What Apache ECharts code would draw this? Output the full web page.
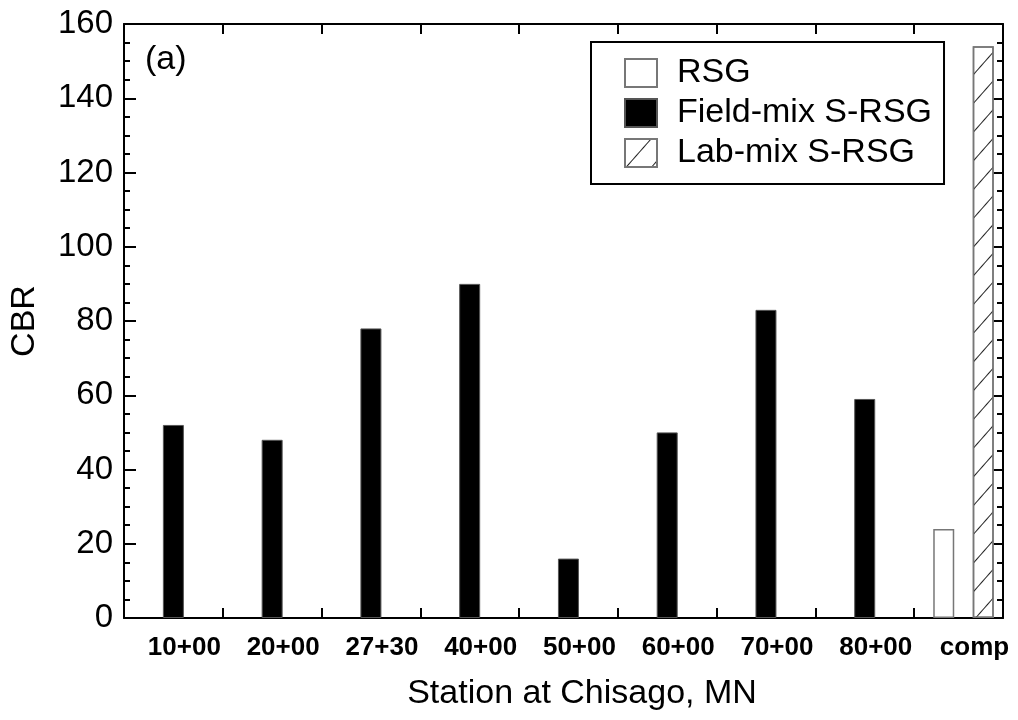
<!DOCTYPE html>
<html>
<head>
<meta charset="utf-8">
<title>CBR by station</title>
<script src="https://cdn.jsdelivr.net/npm/echarts@6/dist/echarts.min.js"></script>
<style>
  html, body { margin: 0; padding: 0; background: #fff; }
  #chart { width: 1018px; height: 720px; }
</style>
</head>
<body>
<div id="chart"></div>
<script>
// data
var stations = ['10+00', '20+00', '27+30', '40+00', '50+00', '60+00', '70+00', '80+00'];
var compLabel = 'comp';
var fieldMix = [52, 48, 78, 90, 16, 50, 83, 59];
var rsgComp = [24];
var labMixComp = [154];

var font = '"Liberation Sans", Arial, Helvetica, sans-serif';

// stations sit at 1..8 on the x axis, the comparison group at 9
var labels = stations.concat([compLabel]);
var labelPos = labels.map(function (l, i) { return i + 1; });
var boundaries = stations.map(function (s, i) { return i + 1.5; });
var compPos = labels.length;

var myChart = echarts.init(document.getElementById('chart'));

var tickStyle = { color: '#000', width: 2 };

var option = {
  animation: false,
  backgroundColor: '#fff',
  title: {
    text: '(a)',
    left: 145,
    top: 43,
    padding: 0,
    textStyle: { fontSize: 34, fontWeight: 'normal', fontFamily: font, color: '#000' }
  },
  legend: {
    orient: 'vertical',
    left: 591,
    top: 42,
    data: ['RSG', 'Field-mix S-RSG', 'Lab-mix S-RSG'],
    icon: 'rect',
    itemWidth: 32,
    itemHeight: 28,
    itemGap: 6,
    borderColor: '#000',
    borderWidth: 2,
    padding: [14, 12, 14, 33],
    selectedMode: false,
    textStyle: { fontSize: 34, color: '#000', fontFamily: font, lineHeight: 28, padding: [0, 0, 0, 15] }
  },
  grid: {
    left: 120,
    right: 15,
    top: 24,
    bottom: 102
  },
  xAxis: [
    {
      type: 'value',
      position: 'bottom',
      min: 0.5,
      max: 9.4,
      axisLine: { show: true, onZero: false, lineStyle: tickStyle },
      axisTick: { show: true, inside: true, length: 10, lineStyle: tickStyle, customValues: boundaries },
      axisLabel: {
        customValues: labelPos,
        formatter: function (v) { return labels[Math.round(v) - 1]; },
        fontSize: 26,
        fontWeight: 'bold',
        fontFamily: font,
        color: '#000',
        margin: 17,
        padding: [0, 0, 0, 22]
      },
      splitLine: { show: false },
      name: 'Station at Chisago, MN',
      nameLocation: 'middle',
      nameGap: 59,
      nameTextStyle: { fontSize: 34, color: '#000', fontFamily: font, padding: [0, 0, 0, 37] }
    },
    {
      type: 'value',
      position: 'top',
      min: 0.5,
      max: 9.4,
      axisLine: { show: true, onZero: false, lineStyle: tickStyle },
      axisTick: { show: true, inside: true, length: 10, lineStyle: tickStyle, customValues: boundaries },
      axisLabel: { show: false },
      splitLine: { show: false }
    }
  ],
  yAxis: [
    {
      type: 'value',
      position: 'left',
      min: 0,
      max: 160,
      interval: 20,
      axisLine: { show: true, lineStyle: tickStyle },
      axisTick: { show: true, inside: true, length: 12, lineStyle: tickStyle },
      minorTick: { show: true, splitNumber: 4, length: 6, lineStyle: tickStyle },
      axisLabel: { fontSize: 33, fontFamily: font, color: '#000', margin: 11 },
      splitLine: { show: false },
      name: 'CBR',
      nameLocation: 'middle',
      nameGap: 82,
      nameTextStyle: { fontSize: 34, color: '#000', fontFamily: font }
    },
    {
      type: 'value',
      position: 'right',
      min: 0,
      max: 160,
      interval: 20,
      axisLine: { show: true, lineStyle: tickStyle },
      axisTick: { show: true, inside: true, length: 12, lineStyle: tickStyle },
      minorTick: { show: true, splitNumber: 4, length: 6, lineStyle: tickStyle },
      axisLabel: { show: false },
      splitLine: { show: false }
    }
  ],
  series: [
    {
      name: 'RSG',
      type: 'bar',
      barWidth: 21,
      barGap: '-100%',
      data: rsgComp.map(function (v) { return [compPos - 0.2, v]; }),
      itemStyle: { color: '#fff', borderColor: '#777', borderWidth: 1.5 }
    },
    {
      name: 'Field-mix S-RSG',
      type: 'bar',
      barWidth: 21,
      barGap: '-100%',
      data: fieldMix.map(function (v, i) { return [i + 1, v]; }),
      itemStyle: { color: '#000', borderColor: '#555', borderWidth: 1 }
    },
    {
      name: 'Lab-mix S-RSG',
      type: 'bar',
      barWidth: 21,
      barGap: '-100%',
      data: labMixComp.map(function (v) { return [compPos + 0.2, v]; }),
      itemStyle: {
        color: '#fff',
        borderColor: '#777',
        borderWidth: 1.5,
        decal: {
          symbol: 'rect',
          symbolSize: 1,
          dashArrayX: [1, 0],
          dashArrayY: [1, 18],
          rotation: -Math.PI * 0.27,
          color: '#222'
        }
      }
    }
  ]
};

myChart.setOption(option);
</script>
</body>
</html>
